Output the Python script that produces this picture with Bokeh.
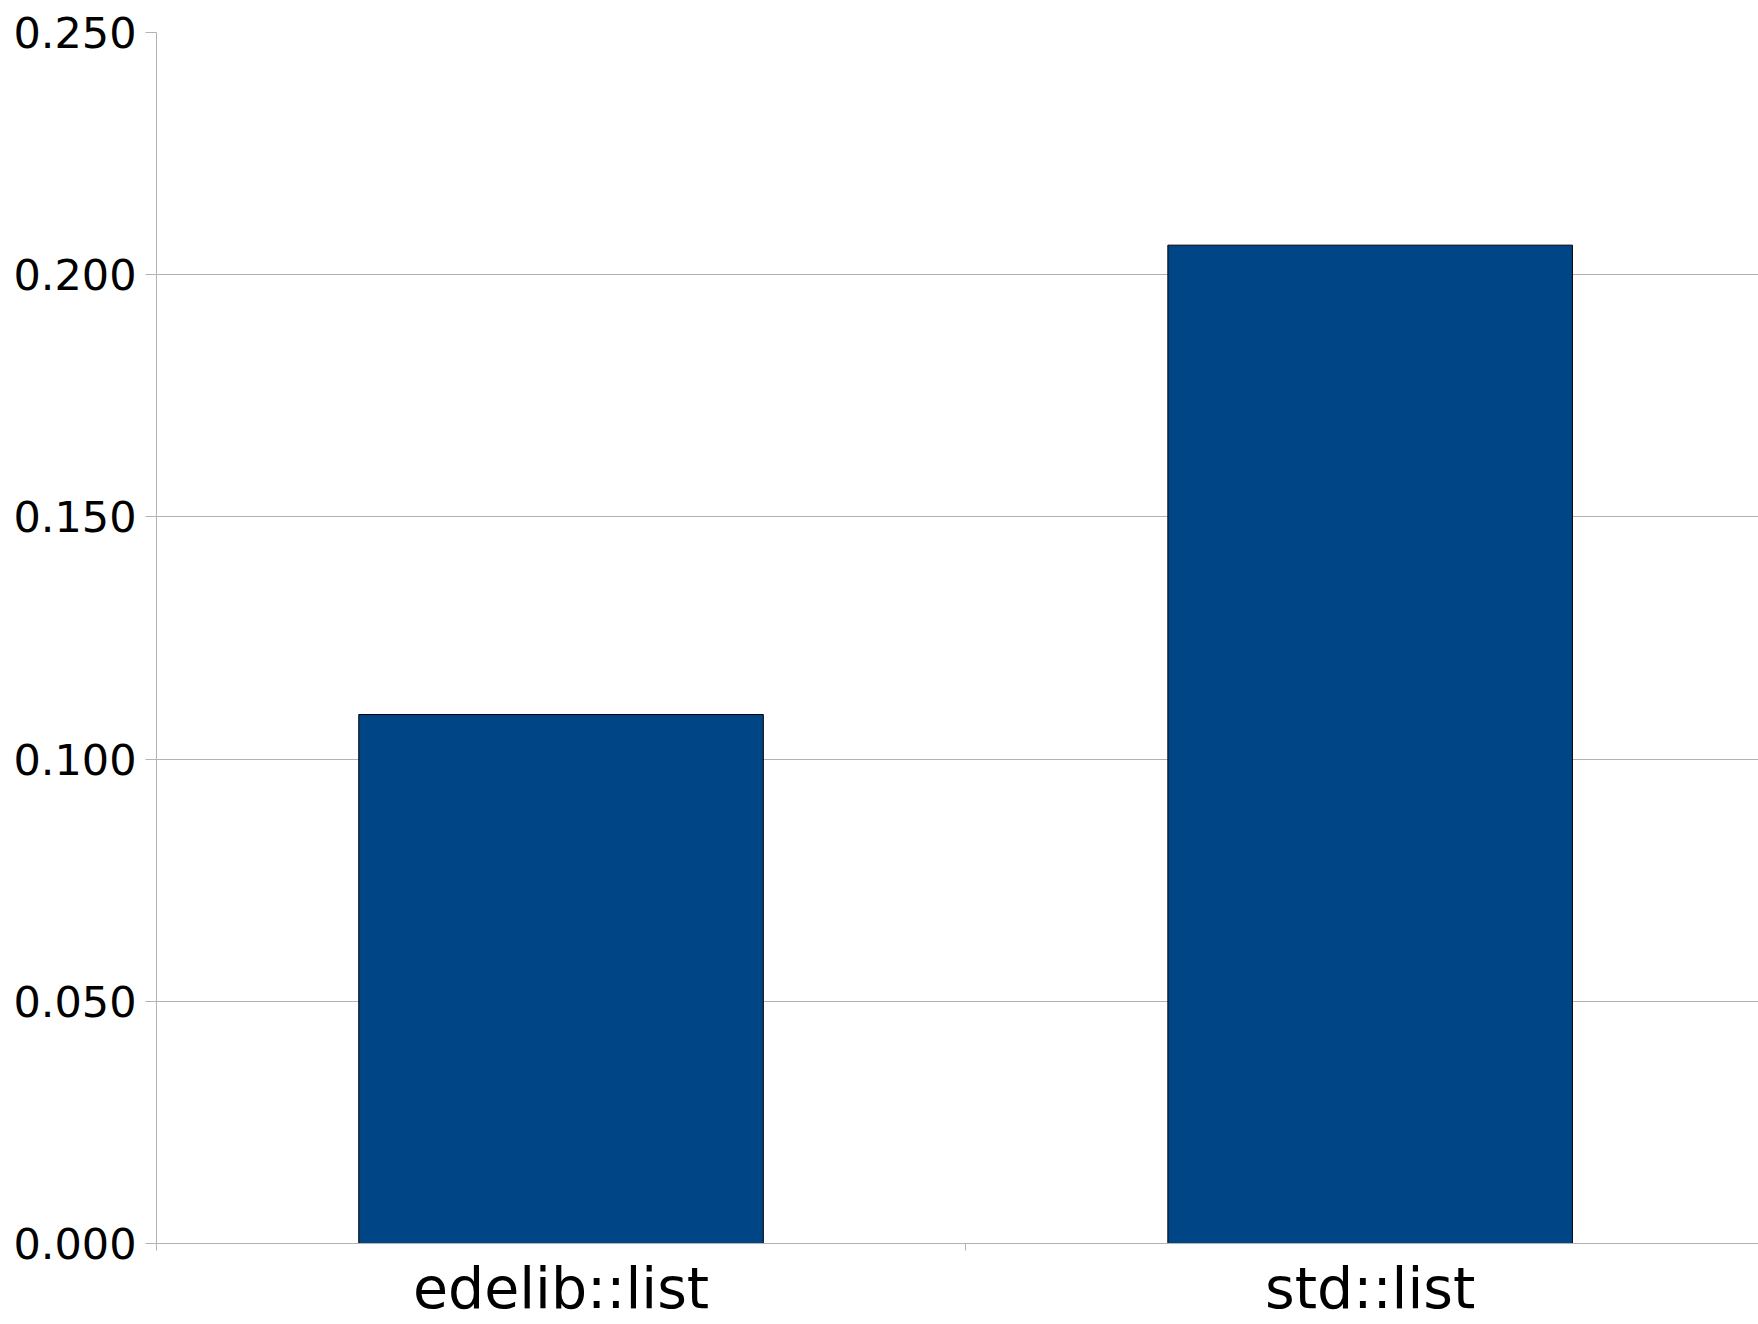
from bokeh.plotting import figure
from bokeh.models import Range1d, FixedTicker, NumeralTickFormatter, ColumnDataSource
from bokeh.embed import file_html
from bokeh.resources import INLINE

categories = ["edelib::list", "std::list"]
values = [0.1092, 0.2061]
y_ticks = [0.0, 0.05, 0.10, 0.15, 0.20, 0.25]

positions = [i + 0.5 for i in range(len(categories))]
boundaries = list(range(len(categories) + 1))
src = ColumnDataSource(dict(x=positions, top=values, name=categories))

p = figure(width=1758, height=1324, output_backend="svg", toolbar_location=None,
           x_range=Range1d(0, 1.980), y_range=Range1d(0, 0.25),
           min_border_left=156, min_border_right=0, min_border_top=32, min_border_bottom=81)
p.outline_line_color = None
p.background_fill_color = "white"
p.border_fill_color = "white"

p.vbar(x="x", top="top", width=0.5, bottom=0, source=src,
       fill_color="#004586", line_color="black", line_width=1)

grey = "#b3b3b3"
# x axis: labels centred on categories, tick marks at category boundaries
p.xaxis.ticker = FixedTicker(ticks=positions, minor_ticks=boundaries)
p.xaxis.major_label_overrides = {pos: c for pos, c in zip(positions, categories)}
p.xaxis.major_tick_line_color = None
p.xaxis.major_tick_out = 0
p.xaxis.major_tick_in = 0
p.xaxis.minor_tick_line_color = grey
p.xaxis.minor_tick_out = 7
p.xaxis.minor_tick_in = 0
p.xaxis.axis_line_color = grey
p.xaxis.major_label_text_font = "DejaVu Sans"
p.xaxis.major_label_text_font_size = "57px"
p.xaxis.major_label_text_line_height = 1.0
p.xaxis.major_label_text_color = "black"
p.xaxis.major_label_standoff = 4

# y axis
p.yaxis.ticker = FixedTicker(ticks=y_ticks)
p.yaxis.formatter = NumeralTickFormatter(format="0.000")
p.yaxis.major_tick_line_color = grey
p.yaxis.major_tick_out = 11
p.yaxis.major_tick_in = 0
p.yaxis.minor_tick_line_color = None
p.yaxis.axis_line_color = grey
p.yaxis.major_label_text_font = "DejaVu Sans"
p.yaxis.major_label_text_font_size = "43px"
p.yaxis.major_label_text_color = "black"
p.yaxis.major_label_standoff = 9

p.xgrid.grid_line_color = None
p.ygrid.ticker = FixedTicker(ticks=y_ticks)
p.ygrid.grid_line_color = grey
p.ygrid.grid_line_width = 1

open("out.html", "w").write(file_html(p, INLINE))
